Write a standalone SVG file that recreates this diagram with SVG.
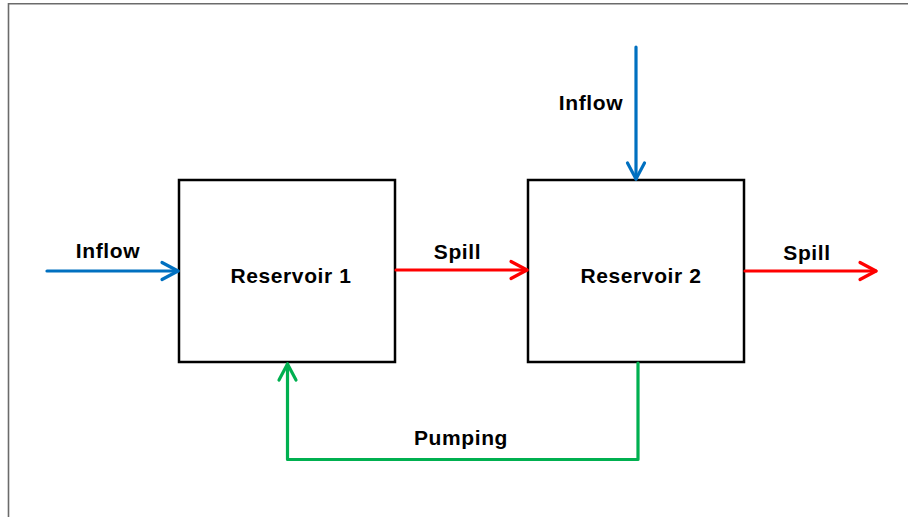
<svg xmlns="http://www.w3.org/2000/svg" width="908" height="517" viewBox="0 0 908 517">
<defs>
<style>
.box{fill:#fff;stroke:#000;stroke-width:2.5}
.lbl{font-family:"Liberation Sans",Arial,sans-serif;font-weight:bold;font-size:21px;fill:#000;text-anchor:middle;letter-spacing:0.6px}
.c{fill:none;stroke-width:3.2;stroke-linecap:round;stroke-linejoin:round}
.blue{stroke:#0070C0}
.red{stroke:#FF0000}
.green{stroke:#00B050}
</style>
<marker id="ab" markerUnits="userSpaceOnUse" viewBox="-20 -12 24 24" markerWidth="24" markerHeight="24" refX="0" refY="0" orient="auto">
<path d="M-16,-8.5 L0,0 L-16,8.5" fill="none" stroke="#0070C0" stroke-width="3.2" stroke-linecap="round" stroke-linejoin="round"/>
</marker>
<marker id="ar" markerUnits="userSpaceOnUse" viewBox="-20 -12 24 24" markerWidth="24" markerHeight="24" refX="0" refY="0" orient="auto">
<path d="M-16,-8.5 L0,0 L-16,8.5" fill="none" stroke="#FF0000" stroke-width="3.2" stroke-linecap="round" stroke-linejoin="round"/>
</marker>
<marker id="ag" markerUnits="userSpaceOnUse" viewBox="-20 -12 24 24" markerWidth="24" markerHeight="24" refX="0" refY="0" orient="auto">
<path d="M-16,-8.5 L0,0 L-16,8.5" fill="none" stroke="#00B050" stroke-width="3.2" stroke-linecap="round" stroke-linejoin="round"/>
</marker>
</defs>
<rect x="0" y="0" width="908" height="517" fill="#fff"/>
<path d="M8.5,517 L8.5,3.8 L908,3.8" fill="none" stroke="#6b6b6b" stroke-width="1.6"/>
<g id="reservoir1">
<rect class="box" x="179" y="180" width="216" height="182"/>
<text class="lbl" x="291" y="283">Reservoir 1</text>
</g>
<g id="reservoir2">
<rect class="box" x="528" y="180" width="216" height="182"/>
<text class="lbl" x="641" y="283">Reservoir 2</text>
</g>
<g id="connectors">
<line class="c blue" x1="47" y1="271" x2="178" y2="271" marker-end="url(#ab)"/>
<line class="c blue" x1="636" y1="47" x2="636" y2="179" marker-end="url(#ab)"/>
<line class="c red" x1="396" y1="270" x2="527" y2="270" marker-end="url(#ar)"/>
<line class="c red" x1="745" y1="271" x2="876" y2="271" marker-end="url(#ar)"/>
<polyline class="c green" points="638,363 638,459.5 287.5,459.5 287.5,364" marker-end="url(#ag)"/>
<text class="lbl" x="108" y="258">Inflow</text>
<text class="lbl" x="591" y="110">Inflow</text>
<text class="lbl" x="457.5" y="259">Spill</text>
<text class="lbl" x="807" y="260">Spill</text>
<text class="lbl" x="461" y="445">Pumping</text>
</g>
</svg>
